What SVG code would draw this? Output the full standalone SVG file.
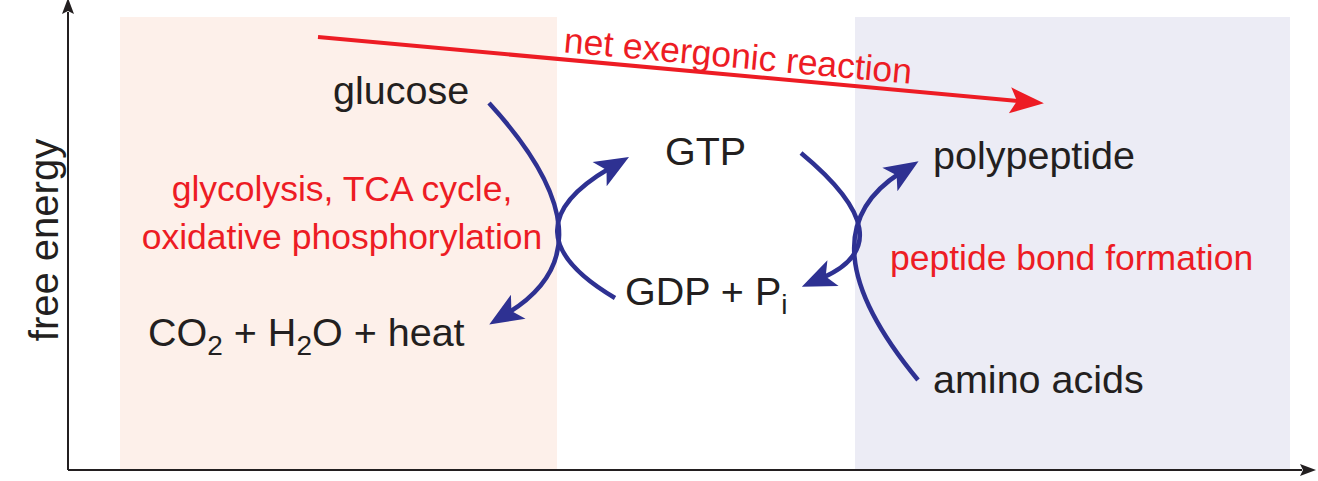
<svg xmlns="http://www.w3.org/2000/svg" width="1318" height="481" viewBox="0 0 1318 481">
<style>
.t{font-family:"Liberation Sans",Arial,sans-serif;font-size:39.5px;fill:#231f20}
.r{font-family:"Liberation Sans",Arial,sans-serif;font-size:35.5px;fill:#ed1c24}
.c{fill:none;stroke:#2e3192;stroke-width:4.5}
</style>
<defs>
<marker id="bh" viewBox="0 0 10 10" refX="3" refY="5" markerWidth="10" markerHeight="10" markerUnits="userSpaceOnUse" orient="auto" overflow="visible">
<path d="M-9,-9 L25,5 L-9,19 L-1,5 Z" fill="#2e3192"/>
</marker>
<marker id="rh" viewBox="0 0 10 10" refX="2" refY="5" markerWidth="10" markerHeight="10" markerUnits="userSpaceOnUse" orient="auto" overflow="visible">
<path d="M-6,-8 L28,5 L-6,18 L1,5 Z" fill="#ed1c24"/>
</marker>
<marker id="ax" viewBox="0 0 10 10" refX="0" refY="5" markerWidth="10" markerHeight="10" markerUnits="userSpaceOnUse" orient="auto" overflow="visible">
<path d="M-2,-1 L14,5 L-2,11 L1,5 Z" fill="#231f20"/>
</marker>
</defs>
<rect x="120" y="17" width="437" height="453" fill="#fdf0ea"/>
<rect x="855" y="17" width="435" height="453" fill="#ececf5"/>
<g id="axes" stroke="#231f20" stroke-width="2" fill="none">
<line x1="68" y1="470" x2="68" y2="12" marker-end="url(#ax)"/>
<line x1="68" y1="470" x2="1302" y2="470" marker-end="url(#ax)"/>
</g>
<text class="t" transform="translate(58,240) rotate(-90)" text-anchor="middle" style="font-size:40px">free energy</text>
<g id="connectors">
<line x1="318" y1="37" x2="1018" y2="101" stroke="#ed1c24" stroke-width="4" marker-end="url(#rh)"/>
<path class="c" d="M489,103 Q619,245 508,313" marker-end="url(#bh)"/>
<path class="c" d="M615,298 Q502,231 610,168" marker-end="url(#bh)"/>
<path class="c" d="M801,153 Q907,241 822,278" marker-end="url(#bh)"/>
<path class="c" d="M918,380 Q800,237 900,173" marker-end="url(#bh)"/>
</g>
<text class="r" transform="translate(737,68) rotate(5.2)" text-anchor="middle">net exergonic reaction</text>
<g id="glucose"><text class="t" x="333" y="104">glucose</text></g>
<g id="co2"><text class="t" x="148" y="346">CO<tspan font-size="28" dy="9">2</tspan><tspan dy="-9"> + H</tspan><tspan font-size="28" dy="9">2</tspan><tspan dy="-9">O + heat</tspan></text></g>
<g id="gtp"><text class="t" x="665" y="165">GTP</text></g>
<g id="gdp"><text class="t" x="625" y="305">GDP + P<tspan font-size="28" dy="9">i</tspan></text></g>
<g id="polypeptide"><text class="t" x="933" y="169">polypeptide</text></g>
<g id="amino"><text class="t" x="933" y="393">amino acids</text></g>
<text class="r" x="342" y="201" text-anchor="middle">glycolysis, TCA cycle,</text>
<text class="r" x="342" y="249" text-anchor="middle">oxidative phosphorylation</text>
<text class="r" x="890" y="270">peptide bond formation</text>
</svg>
